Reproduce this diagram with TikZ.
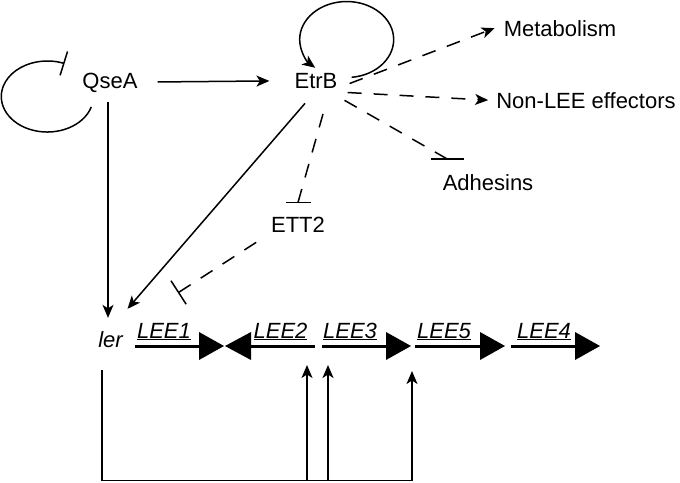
\documentclass[tikz,border=0pt]{standalone}
\usepackage{fontspec}
\setmainfont{Liberation Sans}
\usetikzlibrary{arrows.meta,calc}
\begin{document}
\begin{tikzpicture}[x=1pt,y=-1pt,
  lbl/.style={font=\fontsize{22}{26}\selectfont, inner sep=0pt, anchor=base},
  genelbl/.style={font=\fontsize{22}{26}\selectfont\itshape, inner sep=0pt, anchor=base},
  conn/.style={line width=1.5pt},
  act/.style={conn, -{Stealth[length=13pt,width=11pt,inset=3.5pt]}},
  rep/.style={conn, -{Bar[width=25pt,line width=1.5pt]}},
  repstart/.style={conn, {Bar[width=28pt,line width=1.5pt]}-},
  dsh/.style={dash pattern=on 14pt off 12pt},
  shaft/.style={line width=3pt},
]
\useasboundingbox (0,0) rectangle (680,482);

% nodes
\node[lbl] (qsea) at (110,88) {QseA};
\node[lbl] (etrb) at (316,88) {EtrB};
\node[lbl] (metab) at (560,36) {Metabolism};
\node[lbl] (nonlee) at (586,108) {Non-LEE effectors};
\node[lbl] (adh) at (488,190) {Adhesins};
\node[lbl] (ett2) at (298,232) {ETT2};
\node[genelbl] (ler) at (110.5,347) {ler};
\node[genelbl] (lee1) at (164,338) {\underline{LEE1}};
\node[genelbl] (lee2) at (280.5,338) {\underline{LEE2}};
\node[genelbl] (lee3) at (350,338) {\underline{LEE3}};
\node[genelbl] (lee5) at (444,338) {\underline{LEE5}};
\node[genelbl] (lee4) at (544,338) {\underline{LEE4}};

% gene arrows
\draw[shaft] (135,346) -- (200,346);
\fill (199,332) -- (224,346) -- (199,360) -- cycle;
\fill (251,332) -- (225,346) -- (251,360) -- cycle;
\draw[shaft] (250,346) -- (315,346);
\draw[shaft] (322,346) -- (387,346);
\fill (386,332) -- (411,346) -- (386,360) -- cycle;
\draw[shaft] (415,346) -- (481,346);
\fill (480,332) -- (505,346) -- (480,360) -- cycle;
\draw[shaft] (511,346) -- (576,346);
\fill (575,332) -- (600,346) -- (575,360) -- cycle;

% QseA self repression loop
\coordinate (qloop) at ($(qsea.west)+(9,24.5)$);
\draw[rep] (qloop) arc[start angle=17, end angle=292, x radius=46, y radius=35.5];

% EtrB self activation loop
\coordinate (eloop) at ($(etrb.east)+(14,-3.2)$);
\draw[act] (eloop) arc[start angle=84, end angle=-228, x radius=47, y radius=38];

% solid arrows
\draw[act, shorten <=20pt, shorten >=25pt] (qsea) -- (etrb);
\draw[act] ($(qsea.south)+(-2,10)$) -- ($(qsea.south |- ler.north)+(-2,-13)$);
\draw[act] ($(etrb.south)+(-11,15)$) -- ($(ler.north)+(17,-22)$);

% dashed regulation from EtrB
\draw[act,dsh] ($(etrb.east)+(12,3)$) -- ($(metab.west)+(-9,0)$);
\draw[act,dsh] ($(etrb.east)+(10,12)$) -- ($(nonlee.west)+(-8,0)$);
\coordinate (adhbar) at ($(adh.north)+(-41,-15)$);
\draw[conn,dsh] (adhbar) -- ($(etrb.east)+(2,17)$);
\draw[conn] ($(adhbar)+(-16,0)$) -- ($(adhbar)+(17,0)$);
\coordinate (ettbar) at ($(ett2.north)+(0,-14)$);
\draw[conn,dsh] (ettbar) -- ($(etrb.south)+(10,15)$);
\draw[conn] ($(ettbar)+(-12.5,0)$) -- ($(ettbar)+(12.5,0)$);

% ETT2 represses ler
\draw[repstart,dsh] ($(ler.north east)+(55,-38)$) -- ($(ett2.south)+(-40,9)$);

% feedback from ler to LEE operons
\coordinate (fb0) at ($(ler.south)+(-8.5,23)$);
\coordinate (fbc) at ($(fb0)+(0,110)$);
\coordinate (t2) at (307,365);
\coordinate (t3) at (328,365);
\coordinate (t5) at (412,371);
\draw[act] (fb0) -- (fbc) -| (t5);
\draw[act] (fbc -| t2) -- (t2);
\draw[act] (fbc -| t3) -- (t3);
\end{tikzpicture}
\end{document}
